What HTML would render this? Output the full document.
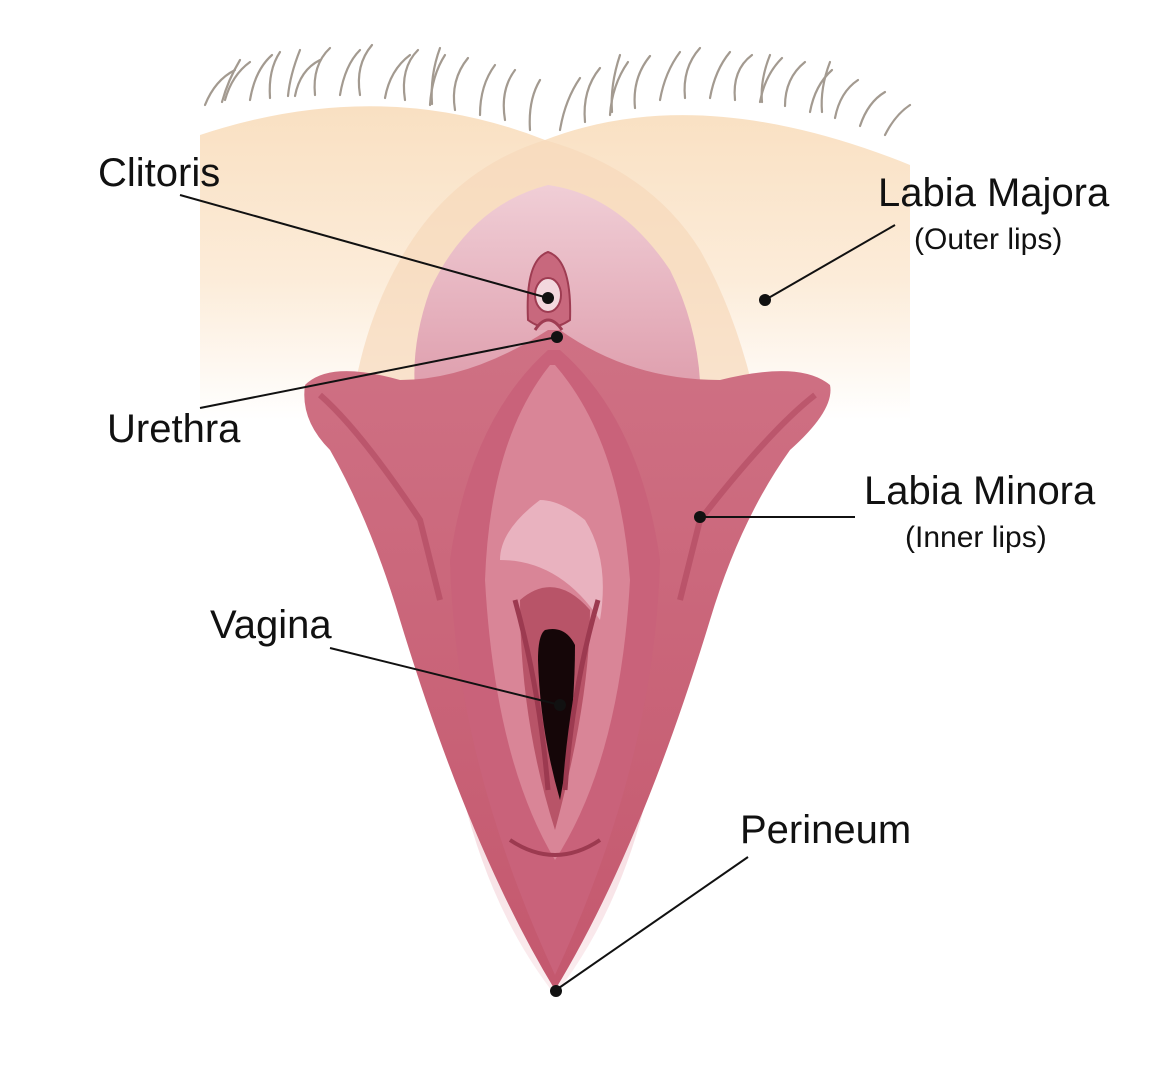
<!DOCTYPE html>
<html><head><meta charset="utf-8"><style>
html,body{margin:0;padding:0;background:#fff;}
svg{display:block;}
text{font-family:"Liberation Sans",sans-serif;fill:#111;}
</style></head><body>
<svg width="1152" height="1073" viewBox="0 0 1152 1073" xmlns="http://www.w3.org/2000/svg">
<defs>
<linearGradient id="skin" x1="0" y1="0" x2="0" y2="1">
<stop offset="0" stop-color="#f9e0c2"/><stop offset="0.55" stop-color="#fcecd9"/><stop offset="1" stop-color="#ffffff"/>
</linearGradient>
<linearGradient id="inner" x1="0" y1="0" x2="0" y2="1">
<stop offset="0" stop-color="#f0ced6"/><stop offset="1" stop-color="#dc97a7"/>
</linearGradient>
<linearGradient id="minora" x1="0" y1="0" x2="0" y2="1">
<stop offset="0" stop-color="#cf7184"/><stop offset="1" stop-color="#c4586e"/>
</linearGradient>
<linearGradient id="tail" x1="0" y1="0" x2="0" y2="1">
<stop offset="0" stop-color="#f3d2d8"/><stop offset="1" stop-color="#fbeef0"/>
</linearGradient>
</defs>
<g stroke="#a39a90" stroke-width="2.2" fill="none" stroke-linecap="round">
<path d="M205 105 Q215 80 235 70"/><path d="M225 100 Q232 75 250 62"/><path d="M250 100 Q255 70 272 55"/>
<path d="M270 98 Q268 70 280 52"/><path d="M295 96 Q300 70 320 60"/><path d="M315 95 Q312 65 330 48"/>
<path d="M340 95 Q345 65 360 50"/><path d="M360 95 Q355 65 372 45"/><path d="M385 98 Q390 70 410 55"/>
<path d="M405 100 Q400 68 418 50"/><path d="M430 105 Q432 75 445 55"/><path d="M455 110 Q450 80 468 58"/>
<path d="M480 115 Q480 85 495 65"/><path d="M505 120 Q500 90 515 70"/><path d="M530 130 Q528 100 540 80"/>
<path d="M560 130 Q565 100 580 78"/><path d="M585 122 Q582 90 600 68"/><path d="M610 115 Q612 85 628 62"/>
<path d="M635 108 Q632 78 650 56"/><path d="M660 100 Q665 72 680 52"/><path d="M685 98 Q682 68 700 48"/>
<path d="M710 98 Q715 70 730 52"/><path d="M735 100 Q732 70 752 55"/><path d="M760 102 Q765 75 782 58"/>
<path d="M785 106 Q785 78 805 62"/><path d="M810 112 Q815 85 832 70"/><path d="M835 118 Q840 92 858 80"/>
<path d="M860 126 Q868 102 885 92"/><path d="M885 135 Q895 115 910 105"/>
<path d="M240 60 Q228 80 222 102"/><path d="M300 50 Q290 75 288 96"/><path d="M440 48 Q430 75 432 104"/>
<path d="M620 55 Q610 85 612 112"/><path d="M770 55 Q760 80 762 102"/><path d="M830 62 Q820 88 822 112"/>
</g>
<path d="M200 135 Q380 75 545 140 Q700 80 910 165 L910 420 L200 420 Z" fill="url(#skin)"/>
<path d="M545 140 Q450 170 400 260 Q360 330 350 420 L760 420 Q740 320 700 250 Q650 170 545 140 Z" fill="#f7d8ba" opacity="0.7"/>
<path d="M548 185 Q470 205 430 290 Q405 360 420 420 L700 420 Q705 340 670 270 Q620 195 548 185 Z" fill="url(#inner)"/>
<path d="M445 690 Q465 880 555 995 Q645 880 665 690 Z" fill="url(#tail)"/>
<path d="M548 330 Q470 380 400 380 Q330 360 305 385 Q300 420 330 450 Q370 520 400 620 Q470 850 555 990 Q640 850 710 620 Q740 520 790 450 Q835 410 830 385 Q800 360 720 380 Q630 380 560 330 Z" fill="url(#minora)"/>
<path d="M320 395 Q360 430 420 520 Q430 560 440 600" stroke="#a94058" stroke-width="6" fill="none" opacity="0.5"/>
<path d="M815 395 Q770 430 700 520 Q690 560 680 600" stroke="#a94058" stroke-width="6" fill="none" opacity="0.5"/>
<path d="M548 350 Q470 420 450 560 Q455 760 555 975 Q655 760 660 560 Q640 420 560 350 Z" fill="#c9627a"/>
<path d="M550 365 Q490 440 485 580 Q495 760 555 860 Q620 760 630 580 Q620 440 555 365 Z" fill="#d98597"/>
<path d="M540 500 Q500 530 500 560 Q560 560 600 620 Q610 560 585 520 Q560 500 540 500 Z" fill="#e9b2bf"/>
<path d="M520 600 Q555 570 590 610 Q590 700 555 830 Q520 720 520 600 Z" fill="#b85468"/>
<path d="M545 630 Q565 625 575 645 Q575 720 560 800 Q540 730 538 660 Q538 635 545 630 Z" fill="#150608"/>
<path d="M515 600 Q540 690 548 790" stroke="#9c3a50" stroke-width="5" fill="none"/>
<path d="M598 600 Q572 690 565 790" stroke="#9c3a50" stroke-width="5" fill="none"/>
<path d="M510 840 Q555 870 600 840" stroke="#9c3a50" stroke-width="4" fill="none"/>
<path d="M528 320 Q525 260 548 252 Q572 260 570 320 Q548 335 528 320 Z" fill="#c8687d" stroke="#9e3c52" stroke-width="2"/>
<ellipse cx="548" cy="295" rx="13" ry="17" fill="#f3d8de" stroke="#9e3c52" stroke-width="2"/>
<path d="M535 330 Q548 310 562 330" stroke="#9e3c52" stroke-width="3" fill="#e2a3b1"/>
<g stroke="#111" stroke-width="2">
<line x1="180" y1="195" x2="548" y2="298"/>
<line x1="200" y1="408" x2="557" y2="337"/>
<line x1="895" y1="225" x2="765" y2="300"/>
<line x1="855" y1="517" x2="700" y2="517"/>
<line x1="330" y1="648" x2="560" y2="705"/>
<line x1="748" y1="857" x2="556" y2="990"/>
</g>
<g fill="#111">
<circle cx="548" cy="298" r="6"/><circle cx="557" cy="337" r="6"/><circle cx="765" cy="300" r="6"/>
<circle cx="700" cy="517" r="6"/><circle cx="560" cy="705" r="6"/><circle cx="556" cy="991" r="6"/>
</g>
<text x="98" y="186" font-size="40">Clitoris</text>
<text x="107" y="442" font-size="40">Urethra</text>
<text x="878" y="206" font-size="40">Labia Majora</text>
<text x="914" y="249" font-size="30">(Outer lips)</text>
<text x="864" y="504" font-size="40">Labia Minora</text>
<text x="905" y="547" font-size="30">(Inner lips)</text>
<text x="210" y="638" font-size="40">Vagina</text>
<text x="740" y="843" font-size="40">Perineum</text>
</svg>
</body></html>
